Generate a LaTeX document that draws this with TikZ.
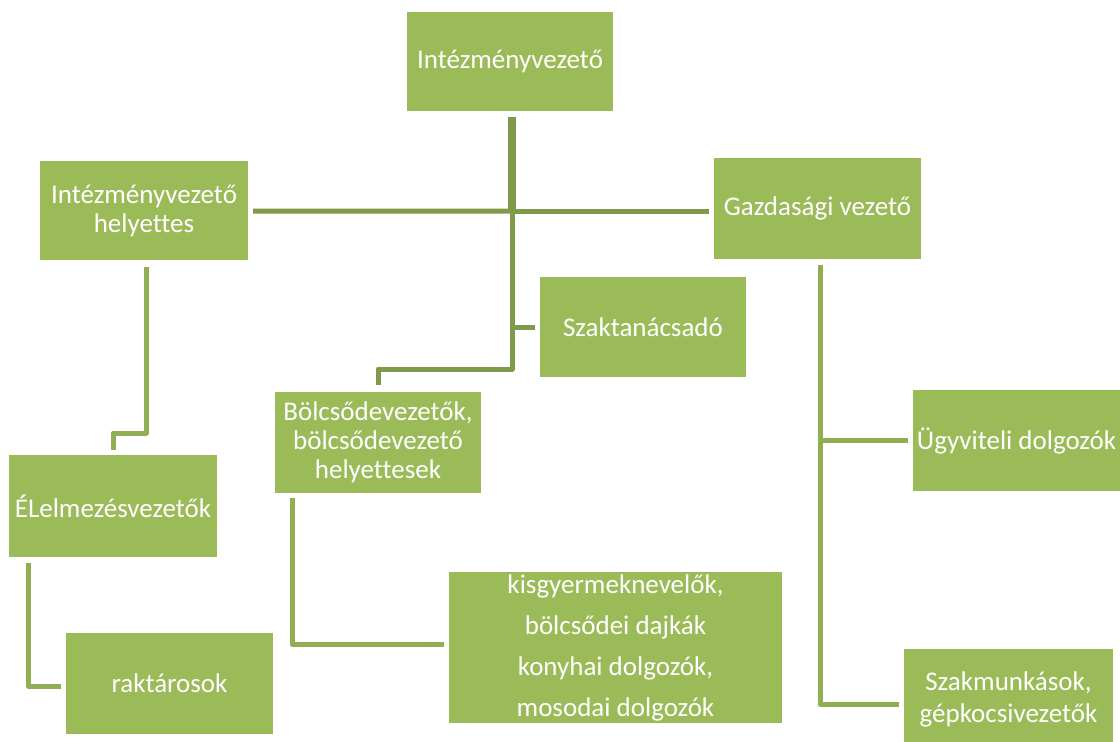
\documentclass[tikz,border=0pt]{standalone}
\usepackage{fontspec}
\setmainfont{Carlito}[Ligatures=NoCommon]
\definecolor{boxgreen}{HTML}{9BBB59}
\definecolor{darkline}{HTML}{7F9A48}
\definecolor{lightline}{HTML}{8FAF52}
\begin{document}
\begin{tikzpicture}[x=1pt,y=-1pt,
  box/.style={fill=boxgreen, draw=none, inner sep=0pt, text=white, align=center,
    font=\fontsize{27}{29}\selectfont},
  dk/.style={draw=darkline, line width=5pt, line join=round},
  lt/.style={draw=lightline, line width=5pt, line join=round}]
\useasboundingbox (0,0) rectangle (1120,742);
\node[box, minimum width=206pt, minimum height=99pt] (A) at (510,61.5) {Intézményvezető};
\node[box, minimum width=208pt, minimum height=99pt] (B) at (144,210.5) {Intézményvezető\\helyettes};
\node[box, minimum width=207pt, minimum height=101pt] (C) at (817.5,208.5) {Gazdasági vezető};
\node[box, minimum width=206pt, minimum height=100pt] (D) at (643,327) {Szaktanácsadó};
\node[box, minimum width=206pt, minimum height=101pt] (E) at (378,442.5) {Bölcsődevezetők,\\bölcsődevezető\\helyettesek};
\node[box, minimum width=207pt, minimum height=101pt] (F) at (1016.5,440.5) {Ügyviteli dolgozók};
\node[box, minimum width=208pt, minimum height=102pt] (G) at (113,506) {ÉLelmezésvezetők};
\node[box, minimum width=207pt, minimum height=101pt] (H) at (169.5,683.5) {raktárosok};
\node[box, minimum width=333pt, minimum height=151pt, font=\fontsize{27}{41}\selectfont] (I) at (615.5,647.5) {kisgyermeknevelők,\\bölcsődei dajkák\\konyhai dolgozók,\\mosodai dolgozók};
\node[box, minimum width=209pt, minimum height=101pt, font=\fontsize{27}{32}\selectfont] (J) at (1008.5,699.5) {Szakmunkások,\\gépkocsivezetők};
% dark tree
\draw[dk, line width=8pt] ([xshift=2pt]A.south) ++(0,6) -- ++(0,94) coordinate (J1);
\draw[dk] (B.east) ++(5,0.5) -- (J1);
\draw[dk] (J1) -- ([xshift=-5pt]C.west |- J1);
\draw[dk] (J1) -- (J1 |- D.west) coordinate (J2) -- ([xshift=-5pt]D.west);
\draw[dk] (J2) -- ++(0,42) -| ([yshift=7pt]E.north);
% light connectors
\draw[lt] ([xshift=2pt,yshift=-7pt]B.south) -- ++(0,166) -| ([yshift=5pt]G.north);
\draw[lt] ([xshift=20pt,yshift=-6pt]G.south west) |- ([xshift=-5pt,yshift=-3pt]H.west);
\draw[lt] ([xshift=18pt,yshift=-5pt]E.south west) |- ([xshift=-5pt,yshift=3pt]I.west);
\draw[lt] (C.south) ++(2.5,6) coordinate (g0) |- ([xshift=-5pt,yshift=-4.5pt]J.west);
\draw[lt] (g0 |- F.west) -- ([xshift=-5pt]F.west);
\end{tikzpicture}
\end{document}
